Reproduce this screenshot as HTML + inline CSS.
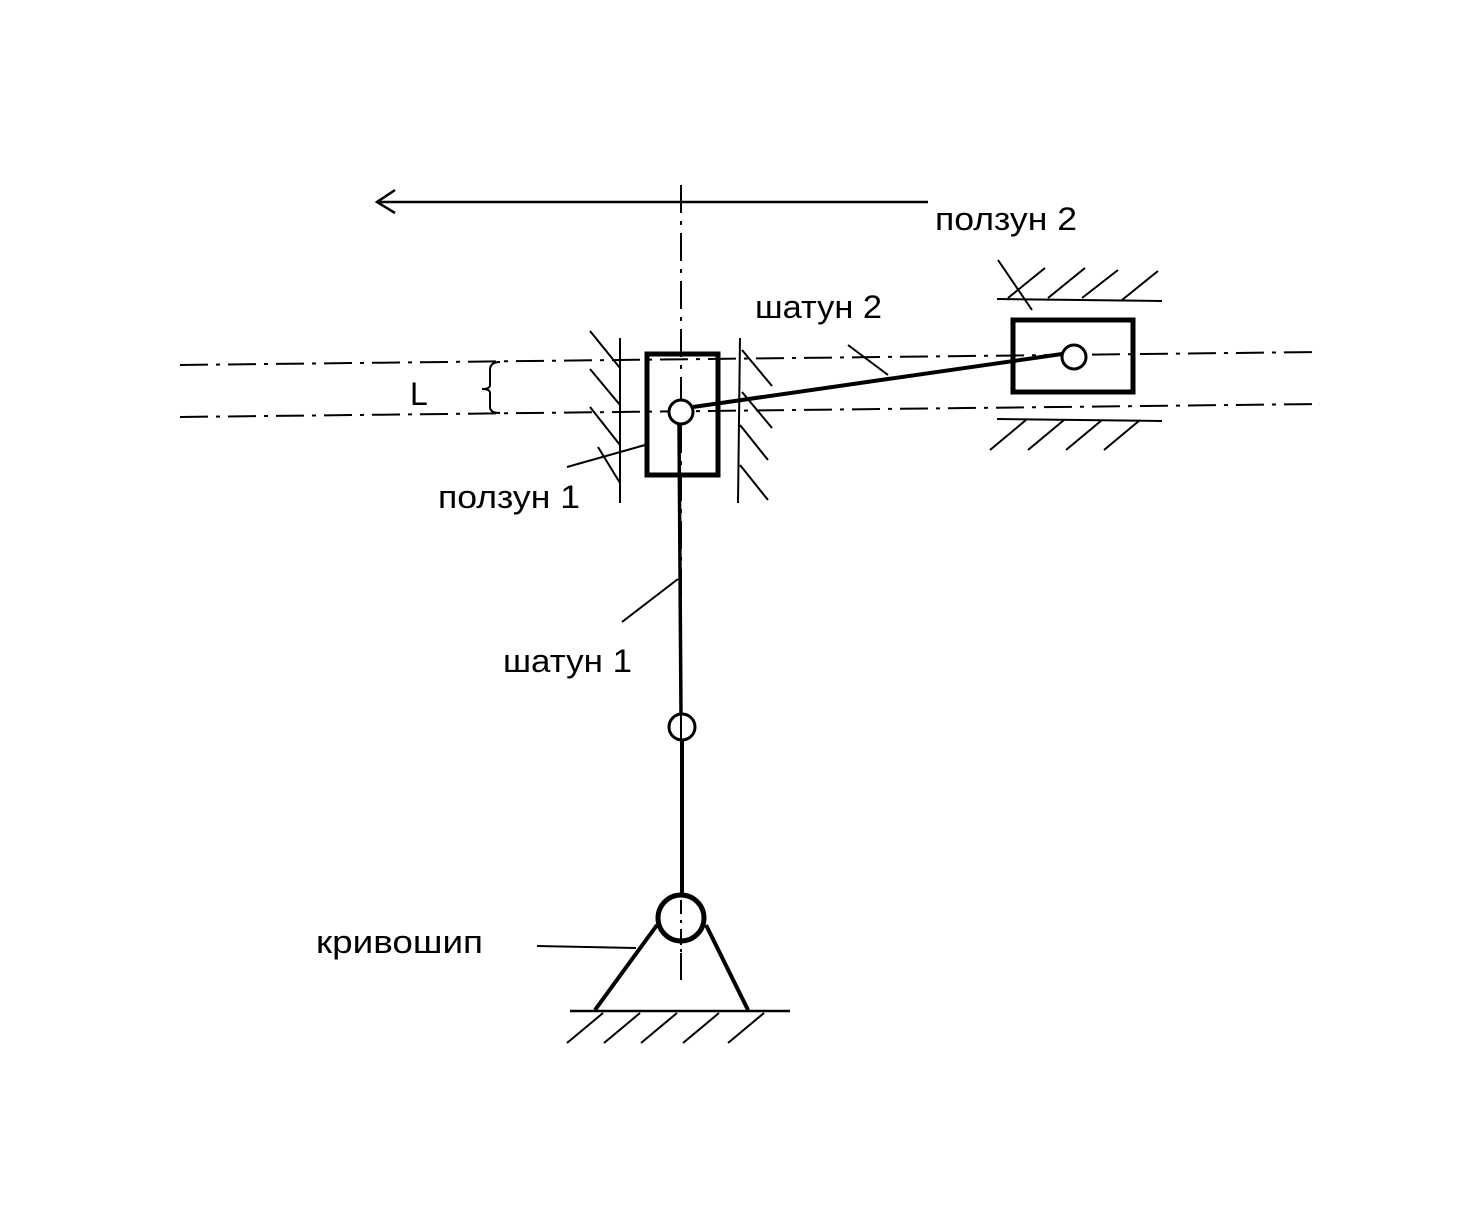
<!DOCTYPE html>
<html><head><meta charset="utf-8"><style>
html,body{margin:0;padding:0;background:#fff;}
svg{display:block;}
text{font-family:"Liberation Sans","DejaVu Sans",sans-serif;font-size:32px;fill:#000;}
</style></head><body>
<svg width="1465" height="1214" viewBox="0 0 1465 1214" xmlns="http://www.w3.org/2000/svg">
<g stroke="#000" fill="none" stroke-linecap="butt">
<line x1="378" y1="202" x2="928" y2="202" stroke-width="2.5"/>
<polyline points="395,190 377,202 395,213" stroke-width="2.5"/>
<g stroke-width="2" stroke-dasharray="28,8,4,8">
<line x1="681" y1="185" x2="681" y2="980"/>
<line x1="180" y1="365" x2="1320" y2="352"/>
<line x1="180" y1="417" x2="1320" y2="404"/>
</g>
<path d="M500,362 Q490,362 490,370 L490,385 Q490,389 482,389 Q490,389 490,393 L490,407 Q490,413 500,413" stroke-width="2"/>
<g stroke-width="2">
<line x1="620" y1="338" x2="620" y2="503"/>
<line x1="740" y1="338" x2="738" y2="503"/>
<line x1="590" y1="331" x2="620" y2="368"/>
<line x1="590" y1="369" x2="620" y2="405"/>
<line x1="590" y1="407" x2="620" y2="445"/>
<line x1="598" y1="447" x2="620" y2="483"/>
<line x1="742" y1="350" x2="772" y2="386"/>
<line x1="742" y1="392" x2="772" y2="428"/>
<line x1="740" y1="425" x2="768" y2="460"/>
<line x1="740" y1="465" x2="768" y2="500"/>
</g>
<rect x="647" y="354" width="71" height="121" stroke-width="5"/>
<g stroke-width="2">
<line x1="997" y1="299" x2="1162" y2="301"/>
<line x1="997" y1="419" x2="1162" y2="421"/>
<line x1="1008" y1="298" x2="1045" y2="268"/>
<line x1="1048" y1="298" x2="1085" y2="268"/>
<line x1="1082" y1="298" x2="1118" y2="270"/>
<line x1="1122" y1="300" x2="1158" y2="271"/>
<line x1="990" y1="450" x2="1026" y2="420"/>
<line x1="1028" y1="450" x2="1064" y2="420"/>
<line x1="1066" y1="450" x2="1102" y2="420"/>
<line x1="1104" y1="450" x2="1140" y2="420"/>
<line x1="998" y1="260" x2="1032" y2="310"/>
</g>
<rect x="1013" y="320" width="120" height="72" stroke-width="5"/>
<line x1="693" y1="407" x2="1062" y2="354" stroke-width="4"/>
<line x1="848" y1="345" x2="888" y2="375" stroke-width="2"/>
<circle cx="681" cy="412" r="12" stroke-width="3" fill="#fff"/>
<circle cx="1074" cy="357" r="12" stroke-width="3" fill="#fff"/>
<line x1="679" y1="424" x2="681" y2="715" stroke-width="3.5"/>
<circle cx="682" cy="727" r="13" stroke-width="3"/>
<line x1="682" y1="740" x2="682" y2="895" stroke-width="4"/>
<line x1="657" y1="925" x2="595" y2="1010" stroke-width="4"/>
<line x1="706" y1="925" x2="748" y2="1010" stroke-width="4"/>
<circle cx="681" cy="918" r="23" stroke-width="5" fill="#fff"/>
<line x1="681" y1="900" x2="681" y2="980" stroke-width="2" stroke-dasharray="14,6,3,6"/>
<line x1="570" y1="1011" x2="790" y2="1011" stroke-width="2.5"/>
<g stroke-width="2">
<line x1="567" y1="1043" x2="603" y2="1013"/>
<line x1="604" y1="1043" x2="640" y2="1013"/>
<line x1="641" y1="1043" x2="677" y2="1013"/>
<line x1="683" y1="1043" x2="719" y2="1013"/>
<line x1="728" y1="1043" x2="764" y2="1013"/>
</g>
<line x1="537" y1="946" x2="636" y2="948" stroke-width="2"/>
<line x1="567" y1="467" x2="645" y2="445" stroke-width="2"/>
<line x1="622" y1="622" x2="678" y2="579" stroke-width="2"/>
</g>
<text x="935" y="230" textLength="142" lengthAdjust="spacingAndGlyphs">ползун 2</text>
<text x="755" y="318" textLength="127" lengthAdjust="spacingAndGlyphs">шатун 2</text>
<text x="410" y="405">L</text>
<text x="438" y="508" textLength="142" lengthAdjust="spacingAndGlyphs">ползун 1</text>
<text x="503" y="672" textLength="129" lengthAdjust="spacingAndGlyphs">шатун 1</text>
<text x="316" y="953" textLength="167" lengthAdjust="spacingAndGlyphs">кривошип</text>
</svg>
</body></html>
